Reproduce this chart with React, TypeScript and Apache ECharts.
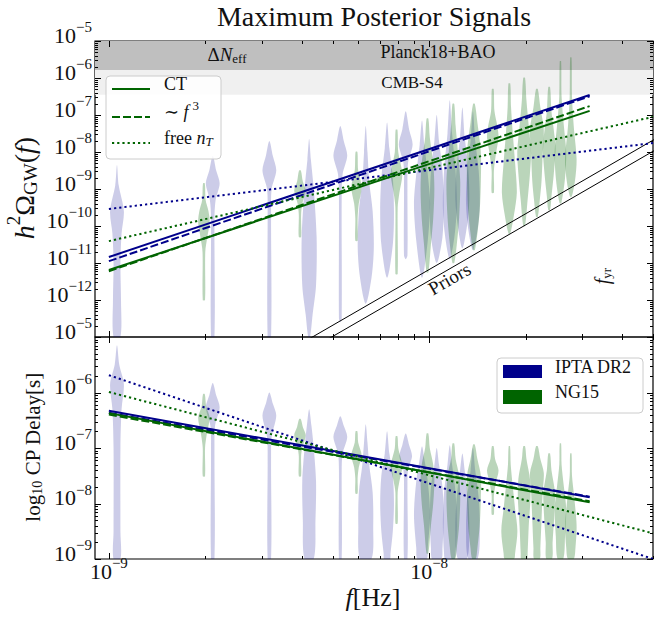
import React, { useEffect, useRef } from "react";
import * as echarts from "echarts";

// ---------------- data ----------------
const fYr = 3.17e-8;
const xMin = 9.05e-10;
const xMax = 5.0e-8;
const omegaMin = 1e-13;
const omegaMax = 1e-5;
const delayMin = 1e-9;
const delayMax = 1e-5;
const dNeffBound = 1.65e-6;
const cmbS4Bound = 3.5e-7;

const lineFreqs = [1e-9, fYr];
const freeFreqs = [1e-9, 5e-8];

const iptaOmegaCT = [1.45e-11, 3.47e-7];
const iptaOmegaF3 = [1.12e-11, 3.2e-7];
const iptaOmegaFree = [2.88e-10, 1.74e-8];
const ng15OmegaCT = [6.45e-12, 1.29e-7];
const ng15OmegaF3 = [6.0e-12, 1.74e-7];
const ng15OmegaFree = [3.9e-11, 8.9e-8];

const iptaDelayCT = [4.7e-7, 1.3e-8];
const iptaDelayF3 = [4.3e-7, 1.33e-8];
const iptaDelayFree = [2.05e-6, 1.0e-9];
const ng15DelayCT = [4.25e-7, 1.05e-8];
const ng15DelayF3 = [4.0e-7, 1.1e-8];
const ng15DelayFree = [1.02e-6, 2.9e-9];

const priorFreqs = [4e-9, 5.2e-8];
const priorUpper = [6.8e-14, 2.54e-8];
const priorLower = [3.4e-14, 1.27e-8];

const iptaFreqs = [1.06e-9, 2.11e-9, 3.17e-9, 4.22e-9, 5.28e-9, 6.34e-9, 7.39e-9, 8.45e-9, 9.5e-9, 1.056e-8, 1.16e-8, 1.27e-8, 1.37e-8];
const ng15Freqs = [1.98e-9, 3.95e-9, 5.93e-9, 7.91e-9, 9.88e-9, 1.19e-8, 1.38e-8, 1.58e-8, 1.78e-8, 1.98e-8, 2.17e-8, 2.37e-8, 2.57e-8, 2.77e-8];

// violin profiles: [log10 value, relative density (half width)]
const iptaOmegaViolins = [
  [[-8.35, 0], [-8.9, 1.5], [-9.6, 6], [-10.2, 4], [-11, 3], [-12, 3.5], [-13, 3]],
  [[-8.1, 0], [-8.5, 3], [-8.85, 6], [-9.3, 2.5], [-9.8, 1.5], [-13, 1.5]],
  [[-7.7, 0], [-8.1, 3], [-8.5, 6], [-9.0, 2], [-9.6, 1.5], [-13, 1.5]],
  [[-7.65, 0], [-8.2, 1.5], [-9.0, 4], [-10.3, 6.5], [-11.6, 6], [-12.4, 3], [-13, 0.8]],
  [[-7.3, 0], [-7.7, 3], [-8.1, 6], [-8.6, 2], [-9.2, 1.2], [-12.5, 1.2], [-12.6, 0]],
  [[-7.3, 0], [-8.0, 1.5], [-8.8, 3], [-9.6, 6], [-10.6, 7], [-11.4, 5], [-12.1, 0]],
  [[-7.2, 0], [-7.9, 2], [-8.7, 5], [-9.6, 6], [-10.5, 5], [-11.4, 0]],
  [[-6.9, 0], [-7.4, 3], [-7.8, 6], [-8.3, 2], [-9.0, 1.5], [-10.8, 1.5], [-10.9, 0]],
  [[-7.15, 0], [-7.8, 2], [-8.6, 5], [-9.4, 7], [-10.4, 5], [-11.4, 0]],
  [[-7.0, 0], [-7.7, 2], [-8.5, 5], [-9.4, 6], [-10.3, 5], [-11.0, 0]],
  [[-6.6, 0], [-7.5, 2], [-8.5, 5], [-9.5, 6], [-10.3, 4], [-10.9, 0]],
  [[-6.8, 0], [-7.6, 2], [-8.4, 5], [-9.3, 6], [-10.0, 4], [-10.6, 0]],
  [[-6.9, 0], [-7.7, 2], [-8.5, 5], [-9.4, 6], [-10.1, 4], [-10.65, 0]],
];
const ng15OmegaViolins = [
  [[-8.85, 0.8], [-9.3, 1.5], [-9.6, 4], [-9.9, 5], [-10.3, 3], [-10.7, 1.2], [-12.0, 1]],
  [[-8.5, 0.8], [-8.8, 2.5], [-9.05, 5], [-9.4, 2], [-9.7, 1], [-10.3, 1]],
  [[-8.0, 0.8], [-8.5, 1.5], [-8.95, 4.5], [-9.4, 2], [-9.8, 1], [-10.4, 1]],
  [[-7.4, 0.8], [-8.0, 1.5], [-8.6, 5], [-9.1, 2.5], [-9.5, 1], [-11.3, 1]],
  [[-7.1, 0.8], [-7.6, 2], [-8.3, 5], [-9.0, 6], [-9.8, 5], [-10.5, 3], [-11.25, 0.8]],
  [[-6.7, 0.8], [-7.3, 2], [-8.0, 4], [-8.8, 6], [-9.8, 5], [-10.5, 3], [-11.0, 0.8]],
  [[-6.7, 0.8], [-7.2, 3], [-8.0, 6], [-8.8, 6], [-9.6, 5], [-10.2, 3], [-10.65, 0.8]],
  [[-6.3, 0.8], [-6.9, 1.5], [-7.3, 4], [-7.6, 5], [-8.0, 3], [-8.5, 1], [-9.1, 1]],
  [[-6.15, 0.8], [-6.8, 1.5], [-7.5, 3], [-8.3, 5], [-9.1, 6.5], [-9.7, 4], [-10.2, 0.8]],
  [[-6.0, 0.8], [-6.6, 2], [-7.3, 4], [-8.0, 6], [-8.6, 5], [-9.3, 3], [-10.0, 0.8]],
  [[-6.3, 0.8], [-6.8, 3], [-7.4, 6], [-8.1, 5], [-8.8, 4], [-9.3, 2.5], [-9.75, 0.8]],
  [[-6.25, 0.8], [-6.9, 2], [-7.4, 4], [-7.9, 5.5], [-8.6, 4], [-9.2, 2], [-9.57, 0.8]],
  [[-5.55, 0.6], [-6.5, 1], [-7.3, 3], [-8.0, 5], [-8.7, 4], [-9.38, 0.8]],
  [[-5.45, 0.6], [-6.5, 1], [-7.3, 2.5], [-8.2, 5], [-8.8, 3.5], [-9.2, 0.8]],
];
const iptaDelayViolins = [
  [[-5.15, 0], [-5.5, 2], [-5.85, 6], [-6.3, 4], [-7, 3], [-8.5, 3], [-9, 3]],
  [[-5.83, 0], [-6.05, 3], [-6.27, 6], [-6.6, 2], [-7.0, 1.5], [-9, 1.5]],
  [[-6.0, 0], [-6.2, 3], [-6.42, 6], [-6.8, 2], [-7.2, 1.5], [-9, 1.5]],
  [[-6.3, 0], [-6.6, 2], [-7.0, 4], [-7.6, 6], [-8.3, 5.5], [-9, 4]],
  [[-6.43, 0], [-6.6, 3], [-6.8, 6], [-7.1, 2], [-7.4, 1.2], [-9, 1.2]],
  [[-6.57, 0], [-6.9, 1.5], [-7.3, 3], [-7.8, 6], [-8.4, 6.5], [-9, 5]],
  [[-6.7, 0], [-7.1, 2], [-7.5, 5], [-8.0, 6], [-8.5, 5], [-8.9, 3], [-9, 2.5]],
  [[-6.74, 0], [-6.95, 3], [-7.15, 5.5], [-7.4, 2], [-7.7, 1.5], [-9, 1.5]],
  [[-6.97, 0], [-7.2, 2], [-7.6, 5], [-8.2, 7], [-8.8, 5], [-9, 4]],
  [[-7.0, 0], [-7.3, 2], [-7.7, 5], [-8.3, 6], [-8.8, 5], [-9, 4]],
  [[-6.95, 0], [-7.3, 2], [-7.8, 5], [-8.4, 6], [-8.9, 5], [-9, 4]],
  [[-7.1, 0], [-7.4, 2], [-7.9, 5], [-8.5, 6], [-9.0, 4]],
  [[-7.0, 0], [-7.4, 2], [-7.9, 5], [-8.5, 6], [-9.0, 4]],
];
const ng15DelayViolins = [
  [[-6.03, 0.8], [-6.25, 2], [-6.45, 5], [-6.75, 2.5], [-7.0, 1], [-7.51, 1]],
  [[-6.48, 0.8], [-6.62, 2.5], [-6.77, 5], [-7.0, 2], [-7.15, 1], [-7.51, 1]],
  [[-6.7, 0.8], [-6.9, 1.5], [-7.13, 4.5], [-7.35, 2], [-7.55, 1], [-7.82, 1]],
  [[-6.79, 0.8], [-7.0, 1.5], [-7.33, 5], [-7.6, 2.5], [-7.8, 1], [-8.36, 1]],
  [[-6.74, 0.8], [-7.0, 2], [-7.3, 5], [-7.6, 6], [-8.0, 5], [-8.4, 3], [-8.9, 0.8]],
  [[-6.92, 0.8], [-7.2, 2], [-7.5, 5], [-7.9, 6], [-8.4, 5], [-8.8, 3], [-9.0, 1.5]],
  [[-6.94, 0.8], [-7.2, 3], [-7.5, 6], [-7.9, 6], [-8.4, 5], [-8.8, 3], [-9.0, 1.5]],
  [[-6.97, 0.8], [-7.2, 2], [-7.4, 5], [-7.6, 3], [-7.85, 1], [-8.2, 1]],
  [[-6.97, 0.6], [-7.3, 1.2], [-7.7, 3], [-8.1, 5], [-8.5, 7], [-8.9, 5], [-9.0, 4]],
  [[-6.97, 0.8], [-7.2, 2], [-7.55, 5], [-7.9, 5.5], [-8.4, 4], [-8.9, 3], [-9.0, 2.5]],
  [[-6.97, 0.8], [-7.2, 3], [-7.45, 6], [-7.8, 5], [-8.3, 4], [-8.8, 3], [-9.0, 2.5]],
  [[-7.1, 0.8], [-7.4, 2], [-7.8, 5], [-8.2, 4.5], [-8.7, 3], [-9.0, 2.5]],
  [[-6.92, 0.6], [-7.3, 1], [-7.7, 3], [-8.1, 5], [-8.6, 4], [-9.0, 2.5]],
  [[-7.1, 0.6], [-7.5, 1], [-7.9, 3], [-8.4, 5], [-8.8, 4], [-9.0, 2.5]],
];

// ---------------- styling ----------------
const SERIF = '"Liberation Serif", "DejaVu Serif", serif';
const BLUE = "#00008b";
const GREEN = "#006400";
const BLUE_FILL = "rgba(0,0,139,0.2)";
const GREEN_FILL = "rgba(0,100,0,0.27)";
const TXT = "#111";
const DASH = [8, 3];
const DOT = [2.2, 3];
const VIOLIN_SCALE = 1.15;

function mathRich(F: number, S: number) {
  const P = Math.round(0.25 * F);
  const supPad = P + F / 2 - S / 2 + 0.36 * F;
  const subPad = Math.max(0, P + F / 2 - 0.22 * F - S / 2);
  const base = (size: number, italic: boolean, pad: number, left = 0) => ({
    fontSize: size,
    lineHeight: size,
    fontFamily: SERIF,
    fontStyle: italic ? "italic" : "normal",
    fill: TXT,
    color: TXT,
    verticalAlign: "bottom",
    padding: [0, 0, pad, left],
  });
  return {
    n: base(F, false, P),
    i: base(F, true, P),
    sup: base(S, false, supPad),
    supx: base(S, false, supPad, Math.round(S * 0.3)),
    sub: base(S, false, subPad),
    subi: base(S, true, subPad),
  };
}

function powLabel(hideExp?: number) {
  return (v: number) => {
    const e = Math.log10(v);
    const r = Math.round(e);
    if (Math.abs(e - r) > 1e-6 || r === hideExp) return "";
    return `{n|10}{sup|${r < 0 ? "\u2212" : ""}${Math.abs(r)}}`;
  };
}

function lineSeries(gi: number, xs: number[], ys: number[], color: string, type: any) {
  return {
    type: "line",
    xAxisIndex: gi,
    yAxisIndex: gi,
    data: xs.map((x, i) => [x, ys[i]]),
    showSymbol: false,
    symbol: "none",
    silent: true,
    z: 4,
    lineStyle: { color, width: 2, type, cap: "butt" },
  };
}

function violinSeries(gi: number, freqs: number[], shapes: number[][][], color: string) {
  return {
    type: "custom",
    xAxisIndex: gi,
    yAxisIndex: gi,
    z: 2,
    clip: true,
    silent: true,
    data: freqs.map((f, i) => [f, Math.pow(10, shapes[i][0][0]), i]),
    renderItem: (params: any, api: any) => {
      const i = api.value(2);
      const f = api.value(0);
      const nodes = shapes[i];
      const cx = api.coord([f, Math.pow(10, nodes[0][0])])[0];
      const right = nodes.map(([ly, w]) => [cx + w * VIOLIN_SCALE, api.coord([f, Math.pow(10, ly)])[1]]);
      const left = nodes
        .filter((n) => n[1] > 0)
        .map(([ly, w]) => [cx - w * VIOLIN_SCALE, api.coord([f, Math.pow(10, ly)])[1]])
        .reverse();
      return {
        type: "polygon",
        shape: { points: right.concat(left), smooth: 0.3 },
        style: { fill: color, stroke: null },
      };
    },
  };
}

function tickData(x0: number, x1: number, y0: number, y1: number) {
  const out: number[][] = [];
  for (let n = -14; n <= -4; n++) {
    for (let k = 1; k <= 9; k++) {
      const v = k * Math.pow(10, n);
      if (v >= x0 * 0.9999 && v <= x1 * 1.0001) out.push([v, y0, k === 1 ? 1 : 0, 0]);
      if (v >= y0 * 0.9999 && v <= y1 * 1.0001) out.push([x0, v, k === 1 ? 1 : 0, 1]);
    }
  }
  return out;
}

function tickSeries(gi: number, y0: number, y1: number) {
  return {
    type: "custom",
    xAxisIndex: gi,
    yAxisIndex: gi,
    z: 6,
    clip: false,
    silent: true,
    data: tickData(xMin, xMax, y0, y1),
    renderItem: (params: any, api: any) => {
      const cs = params.coordSys;
      const major = api.value(2) === 1;
      const len = major ? 6 : 3;
      const p = api.coord([api.value(0), api.value(1)]);
      const st = { stroke: "#000", lineWidth: 1 };
      if (api.value(3) === 0) {
        const x = Math.round(p[0]) + 0.5;
        return {
          type: "group",
          children: [
            { type: "line", shape: { x1: x, y1: cs.y + cs.height, x2: x, y2: cs.y + cs.height - len }, style: st },
            { type: "line", shape: { x1: x, y1: cs.y, x2: x, y2: cs.y + len }, style: st },
          ],
        };
      }
      const y = Math.round(p[1]) + 0.5;
      return {
        type: "group",
        children: [
          { type: "line", shape: { x1: cs.x, y1: y, x2: cs.x + len, y2: y }, style: st },
          { type: "line", shape: { x1: cs.x + cs.width, y1: y, x2: cs.x + cs.width - len, y2: y }, style: st },
        ],
      };
    },
  };
}

function txt(x: number, y: number, text: string, F: number, S: number, extra: any = {}) {
  return {
    type: "text",
    x,
    y,
    z: 100,
    silent: true,
    ...extra,
    style: {
      text,
      rich: mathRich(F, S),
      align: extra.align || "center",
      verticalAlign: "middle",
      fill: TXT,
      font: `${F}px ${SERIF}`,
    },
  };
}

export default function App() {
  const ref = useRef<HTMLDivElement>(null);
  useEffect(() => {
    if (!ref.current) return;
    const chart = echarts.init(ref.current, undefined, { renderer: "svg" });
    const tickRich = mathRich(22, 15);
    const axisCommon = {
      type: "log",
      logBase: 10,
      axisLine: { show: false },
      axisTick: { show: false },
      splitLine: { show: false },
      minorTick: { show: false },
    };
    const option: any = {
      animation: false,
      backgroundColor: "#fff",
      grid: [
        { left: 95, top: 41, width: 558, height: 296, show: true, borderColor: "#000", borderWidth: 1.2, backgroundColor: "transparent" },
        { left: 95, top: 337, width: 558, height: 222, show: true, borderColor: "#000", borderWidth: 1.2, backgroundColor: "transparent" },
      ],
      xAxis: [
        { ...axisCommon, gridIndex: 0, min: xMin, max: xMax, axisLabel: { show: false } },
        { ...axisCommon, gridIndex: 1, min: xMin, max: xMax, axisLabel: { formatter: powLabel(), rich: tickRich, margin: 7, interval: 0 } },
      ],
      yAxis: [
        { ...axisCommon, gridIndex: 0, min: omegaMin, max: omegaMax, axisLabel: { formatter: powLabel(-13), rich: tickRich, margin: 3, interval: 0 } },
        { ...axisCommon, gridIndex: 1, min: delayMin, max: delayMax, axisLabel: { formatter: powLabel(), rich: tickRich, margin: 3, interval: 0 } },
      ],
      series: [
        {
          type: "line",
          xAxisIndex: 0,
          yAxisIndex: 0,
          data: [[fYr, cmbS4Bound]],
          showSymbol: false,
          symbol: "none",
          lineStyle: { opacity: 0 },
          z: 1,
          silent: true,
          markArea: {
            silent: true,
            data: [
              [{ yAxis: dNeffBound, itemStyle: { color: "#bfbfbf" } }, { yAxis: omegaMax }],
              [{ yAxis: cmbS4Bound, itemStyle: { color: "#f0f0f0" } }, { yAxis: dNeffBound }],
            ],
          },
          markLine: {
            silent: true,
            symbol: ["none", "none"],
            label: { show: false },
            data: [
              { yAxis: dNeffBound, lineStyle: { color: "#333", width: 1.2, type: "solid" } },
              { yAxis: cmbS4Bound, lineStyle: { color: "#444", width: 1, type: [4, 3] } },
              { xAxis: fYr, lineStyle: { color: "#000", width: 1, type: [1.5, 2] } },
            ],
          },
        },
        {
          type: "line",
          xAxisIndex: 1,
          yAxisIndex: 1,
          data: [[fYr, 1e-7]],
          showSymbol: false,
          symbol: "none",
          lineStyle: { opacity: 0 },
          z: 1,
          silent: true,
          markLine: {
            silent: true,
            symbol: ["none", "none"],
            label: { show: false },
            data: [{ xAxis: fYr, lineStyle: { color: "#000", width: 1, type: [1.5, 2] } }],
          },
        },
        violinSeries(0, iptaFreqs, iptaOmegaViolins, BLUE_FILL),
        violinSeries(0, ng15Freqs, ng15OmegaViolins, GREEN_FILL),
        violinSeries(1, iptaFreqs, iptaDelayViolins, BLUE_FILL),
        violinSeries(1, ng15Freqs, ng15DelayViolins, GREEN_FILL),
        { ...lineSeries(0, priorFreqs, priorUpper, "#000", "solid"), lineStyle: { color: "#000", width: 1 }, z: 3 },
        { ...lineSeries(0, priorFreqs, priorLower, "#000", "solid"), lineStyle: { color: "#000", width: 1 }, z: 3 },
        lineSeries(0, lineFreqs, iptaOmegaCT, BLUE, "solid"),
        lineSeries(0, lineFreqs, iptaOmegaF3, BLUE, DASH),
        lineSeries(0, freeFreqs, iptaOmegaFree, BLUE, DOT),
        lineSeries(0, lineFreqs, ng15OmegaCT, GREEN, "solid"),
        lineSeries(0, lineFreqs, ng15OmegaF3, GREEN, DASH),
        lineSeries(0, freeFreqs, ng15OmegaFree, GREEN, DOT),
        lineSeries(1, lineFreqs, iptaDelayCT, BLUE, "solid"),
        lineSeries(1, lineFreqs, iptaDelayF3, BLUE, DASH),
        lineSeries(1, freeFreqs, iptaDelayFree, BLUE, DOT),
        lineSeries(1, lineFreqs, ng15DelayCT, GREEN, "solid"),
        lineSeries(1, lineFreqs, ng15DelayF3, GREEN, DASH),
        lineSeries(1, freeFreqs, ng15DelayFree, GREEN, DOT),
        tickSeries(0, omegaMin, omegaMax),
        tickSeries(1, delayMin, delayMax),
      ],
      graphic: [
        txt(374, 23, "{n|Maximum Posterior Signals}", 28, 19),
        txt(31, 188, "{i|h}{sup|2}{n|\u03a9}{sub|GW}{n|(}{i|f}{n|)}", 28, 19, { rotation: Math.PI / 2 }),
        txt(38, 447, "{n|log}{sub|10}{n| CP Delay[s]}", 21, 14, { rotation: Math.PI / 2 }),
        txt(373, 604, "{i|f}{n|[Hz]}", 26, 18),
        txt(227, 59, "{n|\u0394}{i|N}{sub|eff}", 19, 13),
        txt(438, 57, "{n|Planck18+BAO}", 18, 13),
        txt(412, 86, "{n|CMB-S4}", 17, 12),
        txt(607, 276, "{i|f}{sub|yr}", 20, 13, { rotation: Math.PI / 2 }),
        txt(452, 283, "{n|Priors}", 19, 13, { rotation: Math.PI / 6 }),
        // legend 1
        {
          type: "rect",
          z: 99,
          silent: true,
          shape: { x: 106, y: 76, width: 115, height: 83, r: 4 },
          style: { fill: "rgba(255,255,255,0.85)", stroke: "#cccccc", lineWidth: 1 },
        },
        { type: "line", z: 100, silent: true, shape: { x1: 112, y1: 89, x2: 150, y2: 89 }, style: { stroke: GREEN, lineWidth: 2 } },
        { type: "line", z: 100, silent: true, shape: { x1: 112, y1: 117, x2: 150, y2: 117 }, style: { stroke: GREEN, lineWidth: 2, lineDash: DASH } },
        { type: "line", z: 100, silent: true, shape: { x1: 112, y1: 143, x2: 150, y2: 143 }, style: { stroke: GREEN, lineWidth: 2, lineDash: DOT } },
        txt(164, 89, "{n|CT}", 18, 13, { align: "left" }),
        txt(164, 117, "{n|\u223c }{i|f}{supx|3}", 18, 13, { align: "left" }),
        txt(164, 143, "{n|free }{i|n}{subi|T}", 18, 13, { align: "left" }),
        // legend 2
        {
          type: "rect",
          z: 99,
          silent: true,
          shape: { x: 497, y: 358, width: 146, height: 55, r: 4 },
          style: { fill: "rgba(255,255,255,0.85)", stroke: "#cccccc", lineWidth: 1 },
        },
        { type: "rect", z: 100, silent: true, shape: { x: 503, y: 365, width: 39, height: 13 }, style: { fill: BLUE } },
        { type: "rect", z: 100, silent: true, shape: { x: 503, y: 390, width: 39, height: 14 }, style: { fill: GREEN } },
        txt(555, 372, "{n|IPTA DR2}", 18, 13, { align: "left" }),
        txt(555, 397, "{n|NG15}", 18, 13, { align: "left" }),
      ],
    };
    chart.setOption(option);
    return () => chart.dispose();
  }, []);
  return <div ref={ref} style={{ position: "fixed", left: 0, top: 0, width: 662, height: 620 }} />;
}
